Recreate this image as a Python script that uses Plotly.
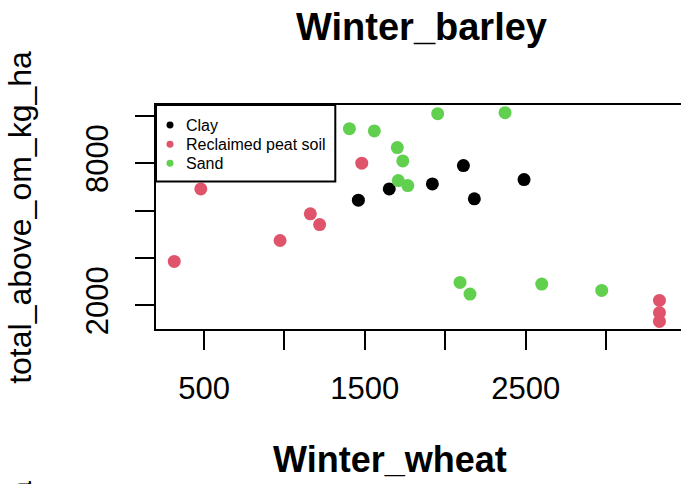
import plotly.graph_objects as go

# Winter wheat (x) vs winter barley total above-ground OM (y), by soil type
clay_x = [1460, 1652, 1920, 2113, 2181, 2490]
clay_y = [6443, 6919, 7130, 7901, 6497, 7311]

peat_x = [315, 480, 973, 1161, 1219, 1481, 3332, 3332, 3332]
peat_y = [3855, 6919, 4740, 5865, 5414, 8002, 2211, 1692, 1326]

sand_x = [1404, 1559, 1702, 1708, 1736, 1767, 1953, 2092, 2154, 2372, 2600, 2973]
sand_y = [9461, 9364, 8660, 7269, 8099, 7058, 10093, 2969, 2480, 10135, 2902, 2632]

soil_names = ["Clay", "Reclaimed peat soil", "Sand"]
soil_colors = ["#000000", "#DF536B", "#61D04F"]

x_ticks = [500, 1000, 1500, 2000, 2500, 3000]
x_labels = ["500", "", "1500", "", "2500", ""]
y_ticks = [2000, 4000, 6000, 8000, 10000]
y_labels = ["2000", "", "", "8000", ""]

FONT = "Liberation Sans, Arial, sans-serif"

# plot region in pixels (R base graphics look)
L, R, T, B = 156, 681, 105, 329.3
def px(x):
    return (x - L) / (R - L)
def py(y):
    return (B - y) / (B - T)

fig = go.Figure()
series = [(clay_x, clay_y), (peat_x, peat_y), (sand_x, sand_y)]
for (xs, ys), name, col in zip(series, soil_names, soil_colors):
    fig.add_trace(go.Scatter(x=xs, y=ys, mode="markers", name=name,
                             marker=dict(color=col, size=13, line=dict(width=0))))

# legend drawn by hand, like R's legend() box
shapes = [dict(type="rect", xref="paper", yref="paper",
               x0=px(156), x1=px(335.3), y0=py(181.7), y1=py(105),
               line=dict(color="black", width=2), fillcolor="white", layer="above")]
rows = [125, 144.3, 163.3]
for name, col, ry in zip(soil_names, soil_colors, rows):
    shapes.append(dict(type="circle", xref="paper", yref="paper",
                       x0=px(166.5), x1=px(173.5), y0=py(ry + 3.5), y1=py(ry - 3.5),
                       line=dict(width=0), fillcolor=col, layer="above"))
    fig.add_annotation(text=name, xref="paper", yref="paper", x=px(184), y=py(ry + 0.5),
                       xanchor="left", yanchor="middle", showarrow=False,
                       font=dict(size=16, family=FONT))

fig.update_layout(
    width=681, height=484,
    margin=dict(l=L, r=681 - R, t=T, b=484 - B),
    plot_bgcolor="white", paper_bgcolor="white",
    font=dict(family=FONT, color="black"),
    showlegend=False,
    shapes=shapes,
)

fig.update_xaxes(range=[201.5, 3466], showgrid=False, zeroline=False,
                 showline=True, mirror=True, linecolor="black", linewidth=2,
                 ticks="outside", ticklen=19, tickwidth=2, tickcolor="black",
                 tickvals=x_ticks, ticktext=x_labels, ticklabelstandoff=12,
                 tickfont=dict(size=31, family=FONT))
fig.update_yaxes(range=[1005, 10459], showgrid=False, zeroline=False,
                 showline=True, mirror=False, linecolor="black", linewidth=2,
                 ticks="outside", ticklen=19, tickwidth=2, tickcolor="black",
                 tickvals=y_ticks, ticktext=y_labels, tickangle=-90, ticklabelstandoff=15,
                 tickfont=dict(size=31, family=FONT))

fig.add_annotation(text="<b>Winter_barley</b>", xref="paper", yref="paper",
                   x=px(421), y=py(27), xanchor="center", yanchor="middle",
                   showarrow=False, font=dict(size=38, family=FONT))
fig.add_annotation(text="total_above_om_kg_ha", xref="paper", yref="paper",
                   x=px(20.5), y=py(217.5), xanchor="center", yanchor="middle",
                   textangle=-90, showarrow=False, font=dict(size=32, family=FONT))
# next panel peeking in below
fig.add_annotation(text="<b>Winter_wheat</b>", xref="paper", yref="paper",
                   x=px(390), y=py(460), xanchor="center", yanchor="middle",
                   showarrow=False, font=dict(size=36, family=FONT))
fig.add_annotation(text="total_above_om_kg_ha", xref="paper", yref="paper",
                   x=px(20.5), y=py(648), xanchor="center", yanchor="middle",
                   textangle=-90, showarrow=False, font=dict(size=32, family=FONT))

fig.write_html("out.html", config={"displayModeBar": False},
               post_script="document.body.style.margin='0';document.body.style.overflow='hidden';")
